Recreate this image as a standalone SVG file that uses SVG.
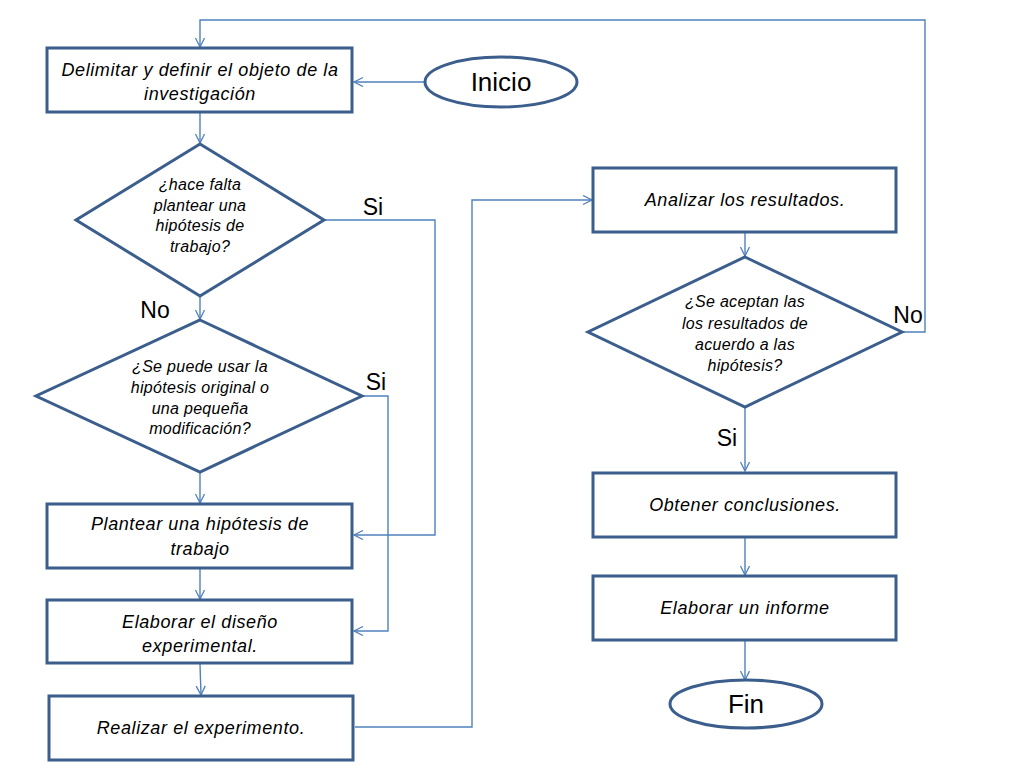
<svg xmlns="http://www.w3.org/2000/svg" width="1024" height="768" viewBox="0 0 1024 768">
<defs>
<marker id="arr" markerWidth="12" markerHeight="12" refX="10" refY="5" orient="auto" markerUnits="userSpaceOnUse">
<path d="M1,0.5 L10,5 L1,9.5" fill="none" stroke="#4F81BD" stroke-width="1.3"/>
</marker>
<style>
.box{fill:#fff;stroke:#3B5E8C;stroke-width:3}
.con{fill:none;stroke:#4F81BD;stroke-width:1.4}
.t{font-family:"Liberation Sans",Arial,sans-serif;font-style:italic;font-size:18px;letter-spacing:0.6px;fill:#000;text-anchor:middle}
.d{font-family:"Liberation Sans",Arial,sans-serif;font-style:italic;font-size:16px;letter-spacing:0.3px;fill:#000;text-anchor:middle}
.l{font-family:"Liberation Sans",Arial,sans-serif;font-size:23px;fill:#000;text-anchor:middle}
.e{font-family:"Liberation Sans",Arial,sans-serif;font-size:26px;fill:#000;text-anchor:middle}
</style>
</defs>
<rect width="1024" height="768" fill="#fff"/>
<g id="connectors">
<polyline class="con" points="902,332 925,332 925,20 200,20 200,47" marker-end="url(#arr)"/>
<line class="con" x1="425" y1="82" x2="354" y2="82" marker-end="url(#arr)"/>
<line class="con" x1="200" y1="112" x2="200" y2="143" marker-end="url(#arr)"/>
<polyline class="con" points="324,220 435,220 435,535 354,535" marker-end="url(#arr)"/>
<line class="con" x1="200" y1="296" x2="200" y2="319" marker-end="url(#arr)"/>
<polyline class="con" points="362,396 388,396 388,631 354,631" marker-end="url(#arr)"/>
<line class="con" x1="200" y1="472" x2="200" y2="503" marker-end="url(#arr)"/>
<line class="con" x1="200" y1="568" x2="200" y2="599" marker-end="url(#arr)"/>
<line class="con" x1="200" y1="664" x2="201" y2="695" marker-end="url(#arr)"/>
<polyline class="con" points="355,727 472,727 472,200 592,200" marker-end="url(#arr)"/>
<line class="con" x1="745" y1="232" x2="745" y2="256" marker-end="url(#arr)"/>
<line class="con" x1="745" y1="407" x2="745" y2="471" marker-end="url(#arr)"/>
<line class="con" x1="745" y1="537" x2="745" y2="575" marker-end="url(#arr)"/>
<line class="con" x1="745" y1="640" x2="745" y2="680" marker-end="url(#arr)"/>
<text class="l" x="373" y="215">Si</text>
<text class="l" x="155" y="318">No</text>
<text class="l" x="376" y="390">Si</text>
<text class="l" x="908" y="323">No</text>
<text class="l" x="727" y="446">Si</text>
</g>
<g id="inicio">
<ellipse cx="501" cy="82" rx="76" ry="25" fill="#fff" stroke="#3B5E8C" stroke-width="3"/>
<text class="e" x="501" y="91">Inicio</text>
</g>
<g id="delimitar">
<rect class="box" x="47" y="48" width="305" height="64"/>
<text class="t" x="200" y="76">Delimitar y definir el objeto de la</text>
<text class="t" x="200" y="100">investigación</text>
</g>
<g id="hace-falta">
<polygon fill="#fff" stroke="#3B5E8C" stroke-width="3" points="200,144 324,220 200,296 76,220"/>
<text class="d" x="200" y="190">¿hace falta</text>
<text class="d" x="200" y="211">plantear una</text>
<text class="d" x="200" y="231">hipótesis de</text>
<text class="d" x="200" y="252">trabajo?</text>
</g>
<g id="se-puede">
<polygon fill="#fff" stroke="#3B5E8C" stroke-width="3" points="200,320 362,396 200,472 36,396"/>
<text class="d" x="200" y="372">¿Se puede usar la</text>
<text class="d" x="200" y="393">hipótesis original o</text>
<text class="d" x="200" y="414">una pequeña</text>
<text class="d" x="200" y="434">modificación?</text>
</g>
<g id="plantear">
<rect class="box" x="47" y="504" width="305" height="64"/>
<text class="t" x="200" y="530">Plantear una hipótesis de</text>
<text class="t" x="200" y="555">trabajo</text>
</g>
<g id="elaborar-diseno">
<rect class="box" x="47" y="600" width="305" height="63"/>
<text class="t" x="200" y="628">Elaborar el diseño</text>
<text class="t" x="200" y="652">experimental.</text>
</g>
<g id="realizar">
<rect class="box" x="49" y="696" width="304" height="64"/>
<text class="t" x="201" y="734">Realizar el experimento.</text>
</g>
<g id="analizar">
<rect class="box" x="593" y="168" width="303" height="64"/>
<text class="t" x="745" y="206">Analizar los resultados.</text>
</g>
<g id="se-aceptan">
<polygon fill="#fff" stroke="#3B5E8C" stroke-width="3" points="745,257 902,332 745,407 588,332"/>
<text class="d" x="745" y="307">¿Se aceptan las</text>
<text class="d" x="745" y="329">los resultados de</text>
<text class="d" x="745" y="350">acuerdo a las</text>
<text class="d" x="745" y="371">hipótesis?</text>
</g>
<g id="obtener">
<rect class="box" x="593" y="473" width="303" height="64"/>
<text class="t" x="745" y="511">Obtener conclusiones.</text>
</g>
<g id="informe">
<rect class="box" x="593" y="576" width="303" height="64"/>
<text class="t" x="745" y="614">Elaborar un informe</text>
</g>
<g id="fin">
<ellipse cx="746" cy="704" rx="76" ry="24" fill="#fff" stroke="#3B5E8C" stroke-width="3"/>
<text class="e" x="746" y="713">Fin</text>
</g>
</svg>
